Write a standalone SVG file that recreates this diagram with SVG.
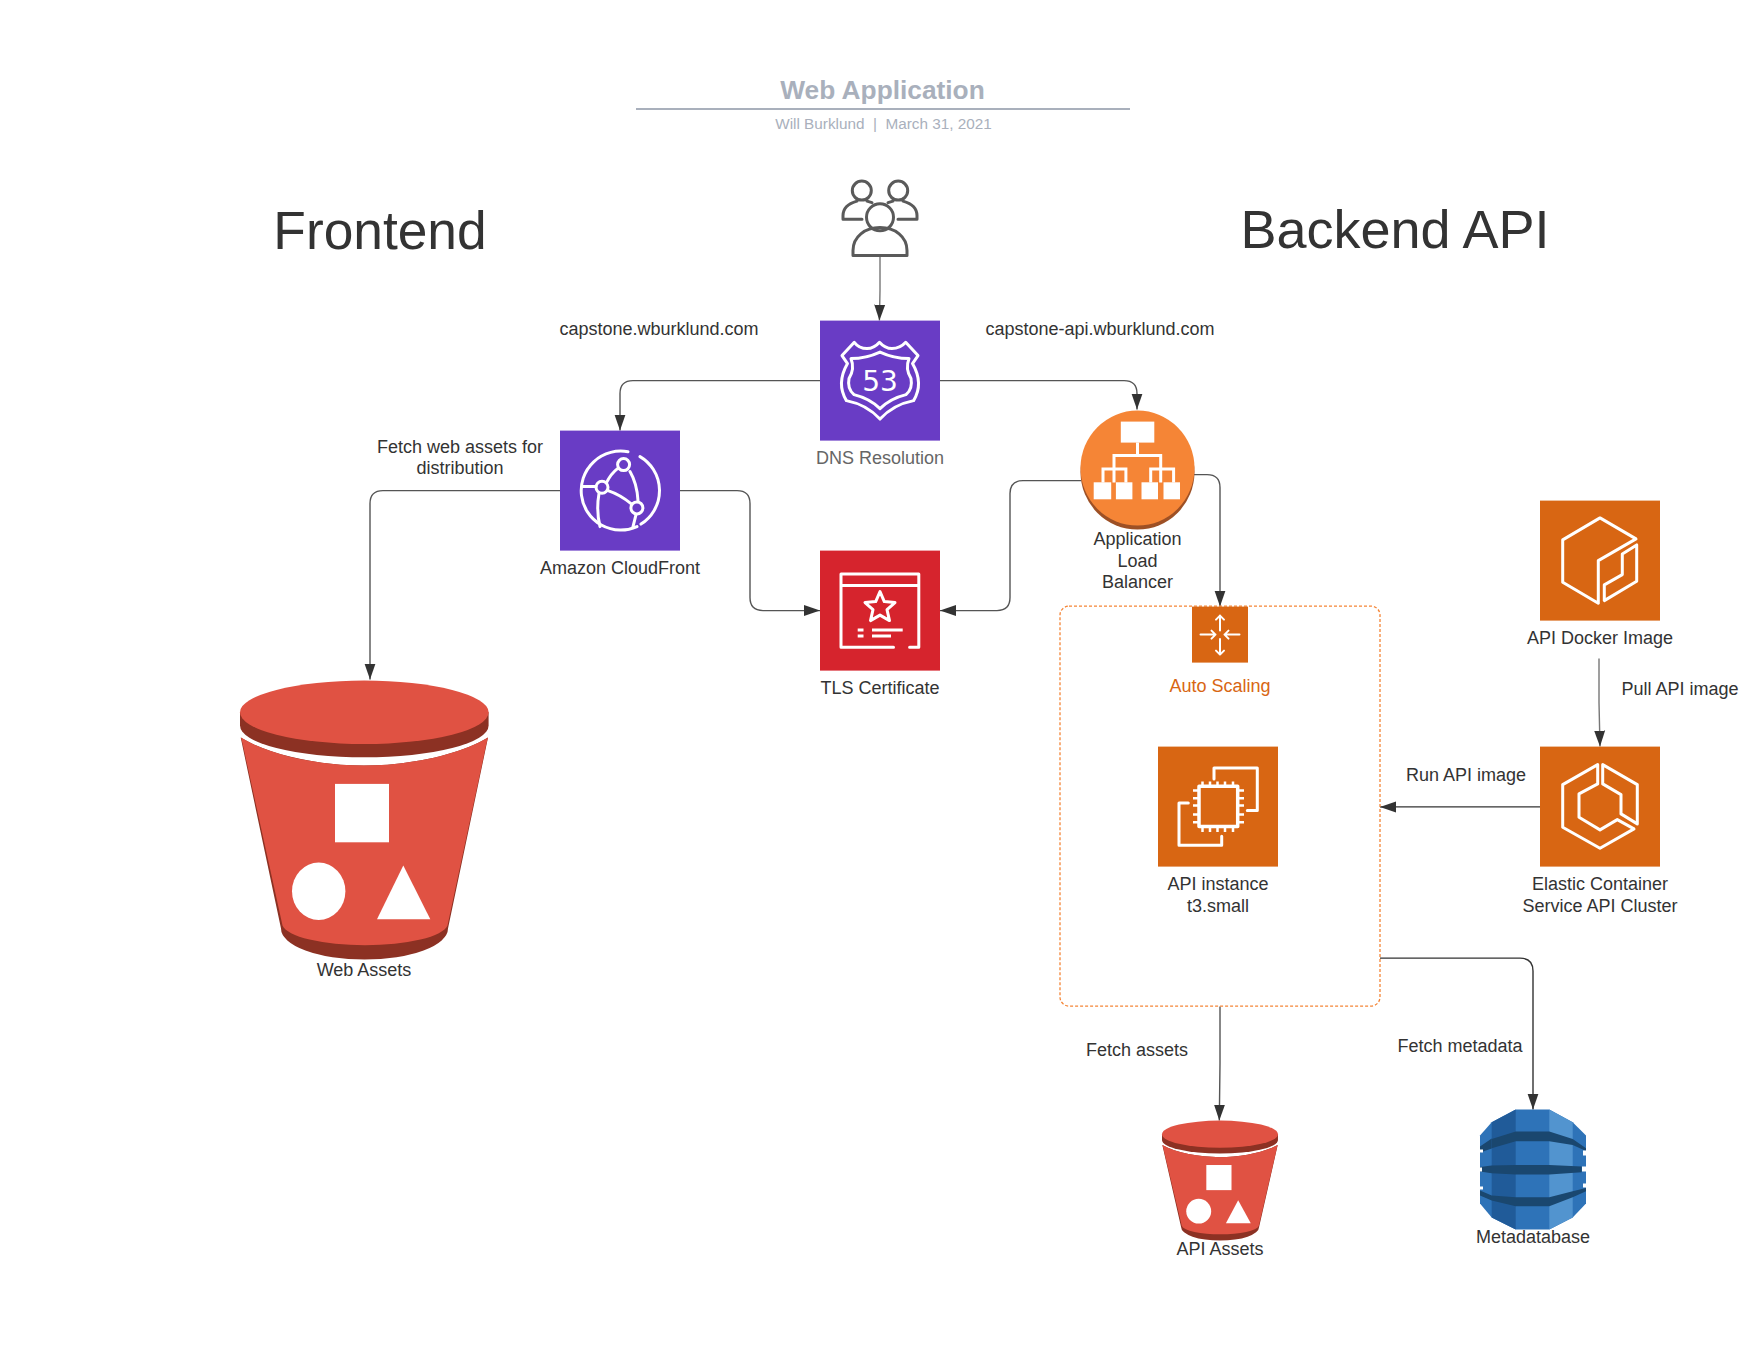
<svg xmlns="http://www.w3.org/2000/svg" xmlns:xlink="http://www.w3.org/1999/xlink" width="1760" height="1360" viewBox="0 0 1760 1360">
<style>
text{font-family:"Liberation Sans",Arial,sans-serif;font-size:18px;fill:#333;text-anchor:middle}
.big{font-size:53.3px}
.grey{fill:#666}
.ic{fill:none;stroke:#fff;stroke-width:3;stroke-linejoin:round;stroke-linecap:round}
.ic2{fill:none;stroke:#fff;stroke-width:2;stroke-linecap:round;stroke-linejoin:round}
.wf{fill:#fff;stroke:none}
.con{fill:none;stroke:#555;stroke-width:1.400}
.dk{stroke:#333}
.ppl{fill:none;stroke:#5a5a5a;stroke-width:3;stroke-linejoin:round;stroke-linecap:round}
</style>
<defs>
<marker id="arr" markerUnits="userSpaceOnUse" markerWidth="17" markerHeight="12" refX="16" refY="6" orient="auto">
<path d="M0 0.500L16 6L0 11.500Z" fill="#333"/>
</marker>
<g id="bucket">
<path d="M240.700 737C270 755 320 765 364 765C408 765 458 755 488 737L448 928A83.500 31 0 0 1 281 928Z" fill="#8c3123"/>
<path d="M241 737C270 755 320 765 364 765C408 765 458 755 488 737L486 745L447.500 925A83 22 0 0 1 282.500 925L243 745Z" fill="#e05243"/>
<path d="M240 711.700V725A124.300 31.700 0 0 0 488.600 725V711.700Z" fill="#8c3123"/>
<ellipse cx="364.300" cy="711.700" rx="124.300" ry="31.700" fill="#e05243"/>
<rect x="335" y="783.300" width="54" height="58.400" fill="#fff"/>
<ellipse cx="318.700" cy="890.700" rx="26.700" ry="28.700" fill="#fff"/>
<path d="M403.300 865L377 918.700H430.300Z" fill="#fff"/>
</g>
</defs>
<rect width="1760" height="1360" fill="#fff"/>

<g id="title">
<text x="882.500" y="99.300" style="font-size:26.300px;font-weight:700;fill:#a9b0bc">Web Application</text>
<path d="M636 109H1130" stroke="#a9b0bc" stroke-width="2" fill="none"/>
<text x="883.500" y="129.300" style="font-size:15.300px;fill:#a9b0bc" xml:space="preserve">Will Burklund  |  March 31, 2021</text>
</g>

<g transform="translate(0 .6)">
<g id="connectors">
<path class="con" d="M880 256V290L879.400 320" style="stroke:#777" marker-end="url(#arr)"/>
<path class="con" d="M820 380H633Q620 380 620 393V430" marker-end="url(#arr)"/>
<path class="con" d="M940 380H1124Q1137 380 1137 393V409" marker-end="url(#arr)"/>
<path class="con" d="M560 490H383Q370 490 370 503V679" marker-end="url(#arr)"/>
<path class="con" d="M680 490H737Q750 490 750 503V597Q750 610 763 610H820" marker-end="url(#arr)"/>
<path class="con" d="M1081 480H1023Q1010 480 1010 493V597Q1010 610 997 610H940" marker-end="url(#arr)"/>
<path class="con" d="M1194 474H1207Q1220 474 1220 487V606" marker-end="url(#arr)"/>
<path class="con" d="M1599 658V702L1600 746" style="stroke:#777" marker-end="url(#arr)"/>
<path class="con dk" d="M1540 806.300H1380" marker-end="url(#arr)"/>
<path class="con dk" d="M1380 957.500H1520Q1533 957.500 1533 970.500V1109" marker-end="url(#arr)"/>
<path class="con" d="M1220 1006V1063L1219.300 1120" marker-end="url(#arr)"/>
</g>

<g id="labels">
<text class="big" x="380" y="248.800">Frontend</text>
<text class="big" x="1395" y="247.400" style="font-size:54px">Backend API</text>
<text x="659" y="334.400">capstone.wburklund.com</text>
<text x="1100" y="334.400">capstone-api.wburklund.com</text>
<text x="460" y="452.100">Fetch web assets for</text>
<text x="460" y="473.600">distribution</text>
<text x="1466" y="780.100">Run API image</text>
<text x="1680" y="694.400">Pull API image</text>
<text x="1137" y="1055">Fetch assets</text>
<text x="1460" y="1051">Fetch metadata</text>
</g>

<g id="users">
<circle class="ppl" cx="861.800" cy="190" r="9.500"/>
<circle class="ppl" cx="898.200" cy="190" r="9.500"/>
<circle class="ppl" cx="880" cy="216.700" r="13.500"/>
<path class="ppl" d="M853 255H907V250C907 236 895 227 880 227C865 227 853 236 853 250Z"/>
<path class="ppl" d="M862 218.700H843V215C843 208 848 203 857 200.500M867 200.500L872 202"/>
<path class="ppl" d="M898 218.700H917V215C917 208 912 203 903 200.500M893 200.500L888 202"/>
</g>

<g id="route53">
<rect x="820" y="320" width="120" height="120" fill="#693cc5"/>
<path class="ic" d="M854.300 341.700Q859 348 867 348Q874 348 879.500 341.700Q885 348 892 348Q900 348 905.700 341.700L918 355L912.500 363Q924 383 913.600 400Q893 404 880 418.500Q867 404 846.400 400Q836 383 847.500 363L842 355Z"/>
<path class="ic" d="M851 358Q866 358 880 351.500Q894 358 909 358Q905 368 911 378Q913 388 906 394Q890 398 880 408Q870 398 854 394Q847 388 849 378Q855 368 851 358Z"/>
<text x="880" y="390.700" style="font-family:'DejaVu Sans',sans-serif;font-size:28px;fill:#fff">53</text>
<text class="grey" x="880" y="463">DNS Resolution</text>
</g>

<g id="cloudfront">
<rect x="560" y="430" width="120" height="120" fill="#693cc5"/>
<path class="ic" d="M640 456A39.500 39.500 0 0 1 641 523.500M637 526A39.500 39.500 0 1 1 628 451.200"/>
<circle class="ic" cx="623.600" cy="464" r="6"/>
<circle class="ic" cx="602" cy="486.700" r="6"/>
<circle class="ic" cx="636.900" cy="507.300" r="6"/>
<path class="ic" d="M617.500 468Q611 473 606.500 482M630 471Q637 483 638 500M608 490Q620 494 631 503M599 493Q596 510 600 526M596 486H583M636 514L633 526"/>
<text x="620" y="573">Amazon CloudFront</text>
</g>

<g id="alb">
<ellipse cx="1137.500" cy="471.500" rx="57" ry="57.500" fill="#9d5025"/>
<ellipse cx="1137.500" cy="467.500" rx="57" ry="57.500" fill="#f58536"/>
<rect class="wf" x="1120.800" y="421" width="33.500" height="21"/>
<path class="ic" d="M1137.500 442V455M1114 482V455H1160.700V482M1103 482V468.300H1125.900V482M1150.700 482V468.300H1173.600V482" style="stroke-linecap:butt;stroke-linejoin:miter"/>
<rect class="wf" x="1093.700" y="481.700" width="17.500" height="17"/>
<rect class="wf" x="1115.900" y="481.700" width="16.500" height="17"/>
<rect class="wf" x="1141.500" y="481.700" width="16.500" height="17"/>
<rect class="wf" x="1163.500" y="481.700" width="16.500" height="17"/>
<text x="1137.500" y="544">Application</text>
<text x="1137.500" y="566">Load</text>
<text x="1137.500" y="587.400">Balancer</text>
</g>

<g id="tls-certificate">
<rect x="820" y="550" width="120" height="120" fill="#d6242d"/>
<path class="ic" d="M893.500 646.700H841V573.500H918.800V646.700H909.600M841 585H918.800"/>
<path class="ic" d="M880 591L884.300 601L895 602L887 609L889.500 620L880 614.500L870.500 620L873 609L865 602L875.700 601Z"/>
<path class="ic" d="M857.700 629.300H863.500M872 629.300H902.700M857.700 635.300H863.500M872 635.300H891" style="stroke-linecap:butt"/>
<text x="880" y="693.400">TLS Certificate</text>
</g>

<g id="scaling-group">
<rect x="1060" y="605.500" width="320" height="400" rx="9" fill="none" stroke="#f58536" stroke-width="1.300" stroke-dasharray="3 2"/>
</g>

<g id="auto-scaling">
<rect x="1192" y="606" width="56" height="56" fill="#d86613"/>
<path class="ic2" d="M1220 615V630M1216 619L1220 615L1224 619M1220 638.500V654M1216 650L1220 654L1224 650M1200.500 634H1215.500M1211.500 630L1215.500 634L1211.500 638M1239.500 634H1224.500M1228.500 630L1224.500 634L1228.500 638"/>
<text x="1220" y="691.200" style="fill:#d86613">Auto Scaling</text>
</g>

<g id="ec2-instance">
<rect x="1158" y="746" width="120" height="120" fill="#d86613"/>
<rect class="ic" x="1199" y="785.700" width="38.700" height="40.300" style="stroke-width:3.500"/>
<path class="ic" style="stroke-width:2.500;stroke-linecap:butt" d="M1202.500 781V786M1210 781V786M1217.500 781V786M1225 781V786M1233 781V786M1202.500 826V831.500M1210 826V831.500M1217.500 826V831.500M1225 826V831.500M1233 826V831.500M1193 790H1199M1193 797.700H1199M1193 805H1199M1193 814H1199M1193 821.700H1199M1237.700 790H1244M1237.700 797.700H1244M1237.700 805H1244M1237.700 814H1244M1237.700 821.700H1244"/>
<path class="ic" d="M1214 778.300V767.300H1257.300V810H1247.300M1188.300 802.300H1179V844.700H1221.700V835.700"/>
<text x="1218" y="889.400">API instance</text>
<text x="1218" y="911">t3.small</text>
</g>

<g id="docker-image">
<rect x="1540" y="500" width="120" height="120" fill="#d86613"/>
<path class="ic" d="M1600 517.300L1562.700 539.300V581.700L1598.300 602.700V560L1636 538.300Z"/>
<path class="ic" d="M1636.700 544.300V580.700L1604.300 600V584.300L1622.300 574V553.300Z"/>
<text x="1600" y="643.400">API Docker Image</text>
</g>

<g id="ecs-cluster">
<rect x="1540" y="746" width="120" height="120" fill="#d86613"/>
<path class="ic" d="M1597.700 764L1562.700 784V826.700L1600 847.700L1634 828.300L1617.300 819L1600 829.300L1579 816.700V793.300L1597.700 783.300Z"/>
<path class="ic" d="M1602.700 764L1637.300 784V823.300L1621 813.300V794L1602.700 783.300Z"/>
<text x="1600" y="889.400">Elastic Container</text>
<text x="1600" y="911">Service API Cluster</text>
</g>

<g id="web-assets">
<use xlink:href="#bucket" href="#bucket"/>
<text x="364" y="975">Web Assets</text>
</g>

<g id="api-assets">
<use xlink:href="#bucket" href="#bucket" transform="translate(1162 1120) scale(.4665 .43) translate(-240 -680)"/>
<text x="1220" y="1254">API Assets</text>
</g>

<g id="metadatabase">
<path fill="#2e73b8" d="M1515.700 1109H1549.300L1572.700 1121.700L1586 1135V1203L1572.700 1217L1549.300 1229H1515.700L1491.700 1217L1480 1203V1135L1491.700 1121.700Z"/>
<path fill="#205b99" d="M1491.700 1121.700L1515.700 1109V1229L1491.700 1217Z"/>
<path fill="#5294cf" d="M1549.300 1109L1572.700 1121.700V1217L1549.300 1229Z"/>
<path fill="#1a476f" d="M1491.700 1138.300L1515.700 1131H1549.300L1572.700 1138.300L1586 1147.700V1150.300L1572.700 1144.300L1549.300 1140.700H1515.700L1491.700 1147.700V1138Z"/>
<path fill="#1a476f" d="M1480 1146L1491.700 1138V1148L1480 1152ZM1480 1166.300L1491.700 1165L1515.700 1164.300H1549.300L1581.700 1166V1171.700L1549.300 1174H1515.700L1491.700 1172.700L1480 1171Z"/>
<path fill="#1a476f" d="M1491.700 1195L1515.700 1196.700H1549.300L1572.700 1190.700L1586 1187.300V1190.700L1572.700 1196.700L1549.300 1205.700H1515.700L1491.700 1200L1480 1195V1190Z"/>
<path fill="#fff" d="M1480 1149H1483V1152H1480ZM1480 1167H1482V1171H1480ZM1480 1186H1483V1189H1480ZM1583 1150H1586V1155H1583ZM1582 1166H1586V1171H1582ZM1583 1183H1586V1187H1583Z"/>
<text x="1533" y="1242.700">Metadatabase</text>
</g>
</g>
</svg>
